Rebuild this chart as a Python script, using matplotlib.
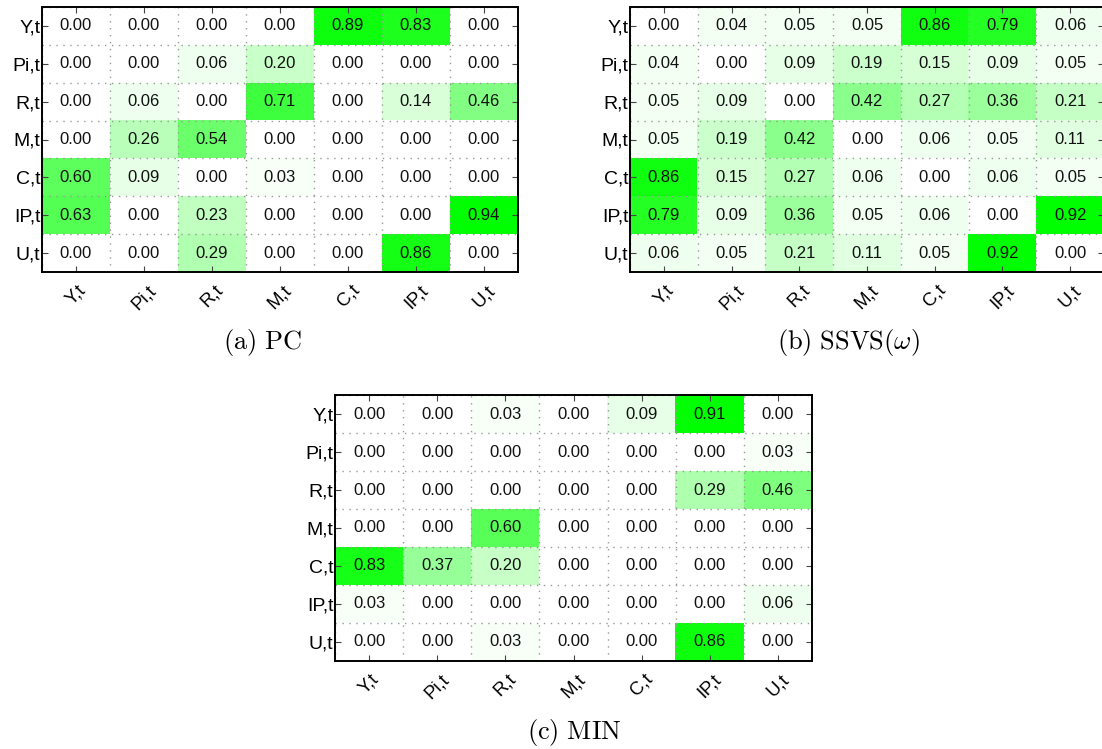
import numpy as np
import matplotlib
matplotlib.use("Agg")
import matplotlib.pyplot as plt
from matplotlib.colors import LinearSegmentedColormap

plt.rcParams['font.family'] = ['Liberation Sans', 'DejaVu Sans']
plt.rcParams['mathtext.fontset'] = 'cm'

labels = ['Y,t', 'Pi,t', 'R,t', 'M,t', 'C,t', 'IP,t', 'U,t']

pc = [
    [0.00, 0.00, 0.00, 0.00, 0.89, 0.83, 0.00],
    [0.00, 0.00, 0.06, 0.20, 0.00, 0.00, 0.00],
    [0.00, 0.06, 0.00, 0.71, 0.00, 0.14, 0.46],
    [0.00, 0.26, 0.54, 0.00, 0.00, 0.00, 0.00],
    [0.60, 0.09, 0.00, 0.03, 0.00, 0.00, 0.00],
    [0.63, 0.00, 0.23, 0.00, 0.00, 0.00, 0.94],
    [0.00, 0.00, 0.29, 0.00, 0.00, 0.86, 0.00],
]

ssvs = [
    [0.00, 0.04, 0.05, 0.05, 0.86, 0.79, 0.06],
    [0.04, 0.00, 0.09, 0.19, 0.15, 0.09, 0.05],
    [0.05, 0.09, 0.00, 0.42, 0.27, 0.36, 0.21],
    [0.05, 0.19, 0.42, 0.00, 0.06, 0.05, 0.11],
    [0.86, 0.15, 0.27, 0.06, 0.00, 0.06, 0.05],
    [0.79, 0.09, 0.36, 0.05, 0.06, 0.00, 0.92],
    [0.06, 0.05, 0.21, 0.11, 0.05, 0.92, 0.00],
]

mn = [
    [0.00, 0.00, 0.03, 0.00, 0.09, 0.91, 0.00],
    [0.00, 0.00, 0.00, 0.00, 0.00, 0.00, 0.03],
    [0.00, 0.00, 0.00, 0.00, 0.00, 0.29, 0.46],
    [0.00, 0.00, 0.60, 0.00, 0.00, 0.00, 0.00],
    [0.83, 0.37, 0.20, 0.00, 0.00, 0.00, 0.00],
    [0.03, 0.00, 0.00, 0.00, 0.00, 0.00, 0.06],
    [0.00, 0.00, 0.03, 0.00, 0.00, 0.86, 0.00],
]

cmap = LinearSegmentedColormap.from_list('wg', ['#ffffff', '#00ff00'])

W, H = 1102, 749
fig = plt.figure(figsize=(W / 100, H / 100), dpi=100)


def panel(rect, data, caption, cap_xy):
    l, t, r, b = rect
    ax = fig.add_axes([l / W, 1 - b / H, (r - l) / W, (b - t) / H])
    m = np.array(data)
    ax.imshow(m, cmap=cmap, vmin=0, vmax=m.max(), aspect='auto',
              interpolation='nearest')
    for i in range(m.shape[0]):
        for j in range(m.shape[1]):
            ax.text(j, i, f'{m[i, j]:.2f}', ha='center', va='center',
                    fontsize=12, color='#111111')
    n = len(labels)
    ax.set_xticks(range(n))
    ax.set_yticks(range(n))
    ax.set_xticklabels(labels, rotation=45, ha='center', fontsize=13.5)
    ax.set_yticklabels(labels, fontsize=14)
    ax.set_xticks(np.arange(-0.5, n, 1), minor=True)
    ax.set_yticks(np.arange(-0.5, n, 1), minor=True)
    ax.grid(which='minor', color='#999999', linestyle=(0, (1, 4)), linewidth=1.0)
    ax.tick_params(which='major', direction='in', length=4, width=0.8,
                   color='#444444', top=True, right=True)
    ax.tick_params(axis='y', which='major', pad=1)
    ax.tick_params(axis='x', which='major', pad=7)
    ax.tick_params(which='minor', length=0)
    ax.set_xlim(-0.5, n - 0.5)
    ax.set_ylim(n - 0.5, -0.5)
    for s in ax.spines.values():
        s.set_linewidth(1.4)
    fig.text(cap_xy[0] / W, 1 - cap_xy[1] / H, caption, ha='center',
             va='center', fontsize=19)
    return ax


panel((42, 7, 518, 272), pc, r'$\mathrm{(a)\ PC}$', (262, 343))
panel((630, 7, 1104, 272), ssvs, r'$\mathrm{(b)\ SSVS}(\omega)$', (848, 343))
panel((335, 395, 812, 661), mn, r'$\mathrm{(c)\ MIN}$', (574, 732))

fig.savefig('out.png', dpi=100)
